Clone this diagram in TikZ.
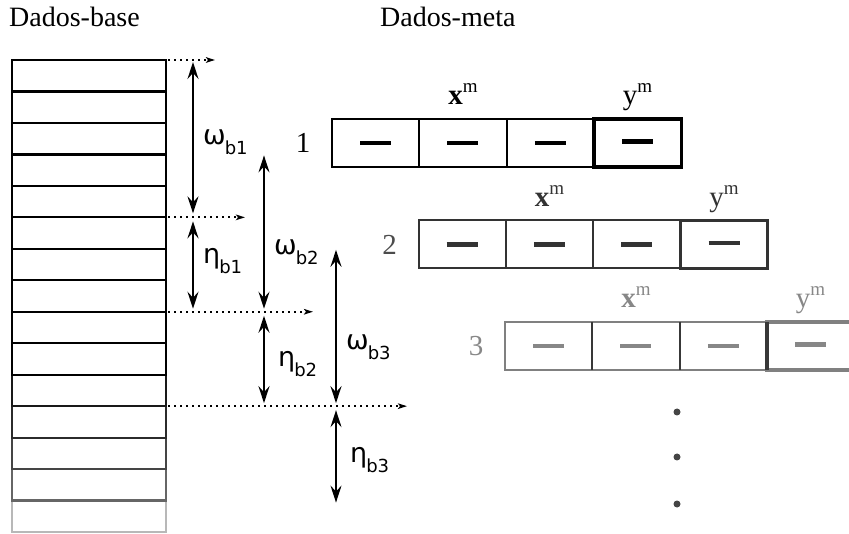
\documentclass[tikz,border=0pt]{standalone}
\usepackage{fontspec}
\setmainfont{Liberation Serif}
\newfontfamily\grfont{DejaVu Sans}
\usetikzlibrary{arrows.meta,calc}
\definecolor{rA}{gray}{0.10}
\definecolor{rB}{gray}{0.17}
\definecolor{rC}{gray}{0.27}
\definecolor{rD}{gray}{0.40}
\definecolor{rE}{gray}{0.72}
\definecolor{gtwo}{gray}{0.2}
\definecolor{gtwot}{gray}{0.3}
\definecolor{gthreeb}{gray}{0.5}
\definecolor{gthreev}{gray}{0.22}
\definecolor{gthreet}{gray}{0.53}
\definecolor{dotc}{gray}{0.27}
\newcommand{\glab}[2]{{\grfont\fontsize{27}{27}\selectfont #1\kern-1pt\raisebox{-10pt}{\fontsize{18}{18}\selectfont b#2}}}
\newcommand{\supm}[1]{#1\raisebox{12pt}{\fontsize{19}{19}\selectfont m}}
\tikzset{
  title/.style={font=\fontsize{28}{32}\selectfont, inner sep=0pt},
  rowbox/.style={draw, rectangle, minimum width=154pt, minimum height=31.47pt, inner sep=0pt, outer sep=0pt, line width=2.2pt},
  dotarrow/.style={line width=1.9pt, dash pattern=on 2pt off 4pt, -{Stealth[length=9pt,width=5.5pt,inset=2pt]}},
  dbl/.style={line width=2.1pt, {Stealth[length=17pt,width=11pt,inset=6pt]}-{Stealth[length=17pt,width=11pt,inset=6pt]}},
  glabel/.style={inner sep=0pt, anchor=base west},
  cell/.style={rectangle, minimum width=87.3pt, minimum height=48pt, inner sep=0pt, outer sep=0pt, anchor=west},
  barline/.style={line width=4.2pt},
  mlab/.style={font=\fontsize{29}{32}\selectfont, inner sep=0pt, anchor=base},
  numlab/.style={font=\fontsize{29}{32}\selectfont, inner sep=0pt},
  dotnode/.style={circle, fill=dotc, inner sep=0pt, minimum size=7pt}
}
\begin{document}
\begin{tikzpicture}[x=1pt,y=-1pt]
\useasboundingbox (0,0) rectangle (849,534);
\clip (0,0) rectangle (849,534);
% titles
\node[title, anchor=base west] (tb) at (9,27) {Dados-base};
\node[title, anchor=base west] (tm) at (380,27) {Dados-meta};
% base data stack
\foreach \i/\c in {15/rE,14/rD,13/rC,12/rB,11/rA,10/black,9/black,8/black,7/black,6/black,5/black,4/black,3/black,2/black,1/black}
  \node[rowbox, draw=\c] (b\i) at (89,{60+(\i-0.5)*31.47}) {};
% levels
\coordinate (L0) at (b1.north east);
\coordinate (L1) at (b5.south east);
\coordinate (L2) at (b8.south east);
\coordinate (L3) at (b11.south east);
\coordinate (E0) at ($(L0)+(49,0)$);
\coordinate (E1) at ($(L1)+(79,0)$);
\coordinate (E2) at ($(L2)+(147,0)$);
\coordinate (E3) at ($(L3)+(241,0)$);
\draw[dotarrow] ([xshift=2pt]L0) -- (E0);
\draw[dotarrow] ([xshift=2pt]L1) -- (E1);
\draw[dotarrow] ([xshift=2pt]L2) -- (E2);
\draw[dotarrow] ([xshift=2pt]L3) -- (E3);
% arrow columns
\coordinate (ca) at (193,0);
\coordinate (cb) at (264,0);
\coordinate (cc) at (336,0);
\draw[dbl, shorten <=2pt, shorten >=4pt] (L0 -| ca) -- (L1 -| ca);
\draw[dbl, shorten <=4pt, shorten >=3pt] (L1 -| ca) -- (L2 -| ca);
\draw[dbl, shorten <=1pt, shorten >=3pt] (b3.south -| cb) -- (L2 -| cb);
\draw[dbl, shorten <=4pt, shorten >=3pt] (L2 -| cb) -- (L3 -| cb);
\draw[dbl, shorten <=1pt, shorten >=3pt] (b6.south -| cc) -- (L3 -| cc);
\draw[dbl, shorten <=4pt, shorten >=-2pt] (L3 -| cc) -- (b14.south -| cc);
% labels
\node[glabel] (w1) at (203,145) {\glab{ω}{1}};
\node[glabel] (h1) at (203,264) {\glab{η}{1}};
\node[glabel] (w2) at (274,255) {\glab{ω}{2}};
\node[glabel] (h2) at (278,367) {\glab{η}{2}};
\node[glabel] (w3) at (346,350) {\glab{ω}{3}};
\node[glabel] (h3) at (350,462) {\glab{η}{3}};
% meta rows
\foreach \r/\ox/\oy/\bc/\vc/\tc/\nc in {1/332/143/black/black/black/black, 2/418.5/244.5/gtwo/gtwo/gtwo/gtwot, 3/505/346/gthreeb/gthreev/gthreet/gthreet}{
  \node[cell, draw=\bc, line width=2pt] (m\r-c1) at (\ox,\oy) {};
  \node[cell, draw=\bc, line width=2pt] (m\r-c2) at (m\r-c1.east) {};
  \node[cell, draw=\bc, line width=2pt] (m\r-c3) at (m\r-c2.east) {};
  \node[cell, draw=\bc, line width=3.4pt] (m\r-c4) at (m\r-c3.east) {};
  \draw[draw=\vc, line width=2pt] (m\r-c1.north east) -- (m\r-c1.south east);
  \draw[draw=\vc, line width=2pt] (m\r-c2.north east) -- (m\r-c2.south east);
  \draw[draw=\vc, line width=2pt] (m\r-c3.north east) -- (m\r-c3.south east);
  \draw[draw=\vc, line width=3.4pt] (m\r-c4.north west) -- (m\r-c4.south west);
  \foreach \k in {1,2,3}
    \draw[barline, draw=\tc] ([xshift=-15.5pt]m\r-c\k.center) -- ([xshift=15.5pt]m\r-c\k.center);
  \draw[barline, draw=\tc] ([xshift=-15.5pt,yshift=1.5pt]m\r-c4.center) -- ([xshift=15.5pt,yshift=1.5pt]m\r-c4.center);
  \node[mlab, text=\tc] (m\r-x) at ($(m\r-c2.north)+(0,-14)$) {\supm{\textbf{x}}};
  \node[mlab, text=\tc] (m\r-y) at ($(m\r-c4.north)+(0,-14)$) {\supm{y}};
  \node[numlab, text=\nc] (n\r) at ($(m\r-c1.west)+(-29,0)$) {\r};
}
% continuation dots
\node[dotnode] (d1) at (677,412) {};
\node[dotnode] (d2) at (677,457) {};
\node[dotnode] (d3) at (677,504) {};
\end{tikzpicture}
\end{document}
